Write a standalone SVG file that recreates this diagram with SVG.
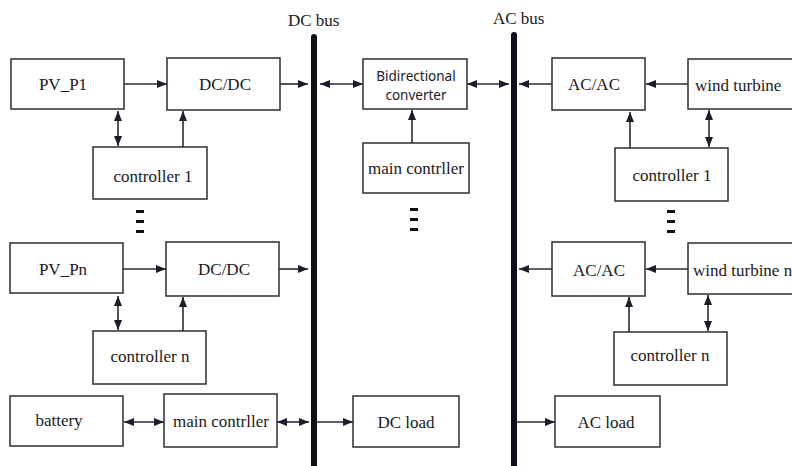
<svg xmlns="http://www.w3.org/2000/svg" width="792" height="466" viewBox="0 0 792 466">
<defs>
<marker id="ah" viewBox="0 0 10 8" refX="10" refY="4" markerWidth="10" markerHeight="8" markerUnits="userSpaceOnUse" orient="auto-start-reverse">
<path d="M0,0 L10,4 L0,8 z" fill="#1c1c2c"/>
</marker>
</defs>
<style>
.box{fill:#fff;stroke:#3a3a3a;stroke-width:1.6}
.t{font-family:"Liberation Serif","Times New Roman",serif;font-size:17px;fill:#1a1a1a}
.s{font-family:"Noto Sans","Open Sans",sans-serif;font-size:13.5px;fill:#1a1a2a}
.c{stroke:#2a2a35;stroke-width:1.6;fill:none}
.bus{stroke:#0e0e1c;stroke-width:6;stroke-linecap:round}
.dash{fill:#111}
</style>
<rect width="792" height="466" fill="#fff"/>

<g id="buses">
<line class="bus" x1="314" y1="37" x2="314" y2="470"/>
<line class="bus" x1="514" y1="35" x2="514" y2="470"/>
<text class="t" x="288" y="26">DC bus</text>
<text class="t" x="493" y="24">AC bus</text>
</g>

<g id="pv1"><rect class="box" x="11" y="59" width="113" height="50"/><text class="t" x="63" y="90" text-anchor="middle">PV_P1</text></g>
<g id="dcdc1"><rect class="box" x="167" y="58" width="113" height="52"/><text class="t" x="225" y="90" text-anchor="middle">DC/DC</text></g>
<g id="ctrl1L"><rect class="box" x="93" y="147" width="114" height="52"/><text class="t" x="153" y="182" text-anchor="middle">controller 1</text></g>
<g id="bidir"><rect class="box" x="363" y="59" width="104" height="50"/><text class="s" x="416" y="81" text-anchor="middle">Bidirectional</text><text class="s" x="416" y="100" text-anchor="middle">converter</text></g>
<g id="mainTop"><rect class="box" x="363" y="143" width="106" height="50"/><text class="t" x="416" y="174" text-anchor="middle">main contrller</text></g>
<g id="acac1"><rect class="box" x="552" y="58" width="93" height="52"/><text class="t" x="594" y="90" text-anchor="middle">AC/AC</text></g>
<g id="wind1"><rect class="box" x="688" y="59" width="110" height="50"/><text class="t" x="695" y="91">wind turbine</text></g>
<g id="ctrl1R"><rect class="box" x="615" y="148" width="113" height="53"/><text class="t" x="672" y="181" text-anchor="middle">controller 1</text></g>

<g id="pvn"><rect class="box" x="10" y="243" width="113" height="50"/><text class="t" x="63" y="275" text-anchor="middle">PV_Pn</text></g>
<g id="dcdcn"><rect class="box" x="166" y="242" width="113" height="54"/><text class="t" x="224" y="275" text-anchor="middle">DC/DC</text></g>
<g id="ctrlnL"><rect class="box" x="93" y="331" width="113" height="53"/><text class="t" x="150" y="362" text-anchor="middle">controller n</text></g>
<g id="acacn"><rect class="box" x="552" y="242" width="93" height="54"/><text class="t" x="599" y="276" text-anchor="middle">AC/AC</text></g>
<g id="windn"><rect class="box" x="688" y="243" width="110" height="51"/><text class="t" x="693" y="276">wind turbine n</text></g>
<g id="ctrlnR"><rect class="box" x="614" y="332" width="113" height="53"/><text class="t" x="670" y="361" text-anchor="middle">controller n</text></g>

<g id="battery"><rect class="box" x="10" y="396" width="113" height="50"/><text class="t" x="59" y="426" text-anchor="middle">battery</text></g>
<g id="mainBot"><rect class="box" x="164" y="394" width="113" height="53"/><text class="t" x="221" y="427" text-anchor="middle">main contrller</text></g>
<g id="dcload"><rect class="box" x="353" y="396" width="106" height="51"/><text class="t" x="406" y="428" text-anchor="middle">DC load</text></g>
<g id="acload"><rect class="box" x="555" y="396" width="105" height="51"/><text class="t" x="606" y="428" text-anchor="middle">AC load</text></g>

<g id="ellipses">
<rect class="dash" x="136" y="210" width="8" height="3"/><rect class="dash" x="136" y="220" width="8" height="3"/><rect class="dash" x="136" y="230" width="8" height="3"/>
<rect class="dash" x="410" y="208" width="8" height="3"/><rect class="dash" x="410" y="218" width="8" height="3"/><rect class="dash" x="410" y="228" width="8" height="3"/>
<rect class="dash" x="667" y="210" width="8" height="3"/><rect class="dash" x="667" y="220" width="8" height="3"/><rect class="dash" x="667" y="230" width="8" height="3"/>
</g>

<g id="connectors">
<line class="c" x1="124" y1="84" x2="167" y2="84" marker-end="url(#ah)"/>
<line class="c" x1="280" y1="84" x2="308" y2="84" marker-end="url(#ah)"/>
<line class="c" x1="118" y1="111" x2="118" y2="146" marker-start="url(#ah)" marker-end="url(#ah)"/>
<line class="c" x1="183" y1="147" x2="183" y2="111" marker-end="url(#ah)"/>
<line class="c" x1="320" y1="84" x2="363" y2="84" marker-start="url(#ah)" marker-end="url(#ah)"/>
<line class="c" x1="467" y1="84" x2="509" y2="84" marker-start="url(#ah)" marker-end="url(#ah)"/>
<line class="c" x1="412" y1="143" x2="412" y2="110" marker-end="url(#ah)"/>
<line class="c" x1="552" y1="84" x2="519" y2="84" marker-end="url(#ah)"/>
<line class="c" x1="688" y1="84" x2="646" y2="84" marker-end="url(#ah)"/>
<line class="c" x1="630" y1="148" x2="630" y2="112" marker-end="url(#ah)"/>
<line class="c" x1="709" y1="110" x2="709" y2="147" marker-start="url(#ah)" marker-end="url(#ah)"/>

<line class="c" x1="123" y1="269" x2="166" y2="269" marker-end="url(#ah)"/>
<line class="c" x1="279" y1="269" x2="308" y2="269" marker-end="url(#ah)"/>
<line class="c" x1="118" y1="296" x2="118" y2="330" marker-start="url(#ah)" marker-end="url(#ah)"/>
<line class="c" x1="183" y1="331" x2="183" y2="297" marker-end="url(#ah)"/>
<line class="c" x1="552" y1="269" x2="519" y2="269" marker-end="url(#ah)"/>
<line class="c" x1="688" y1="269" x2="646" y2="269" marker-end="url(#ah)"/>
<line class="c" x1="629" y1="332" x2="629" y2="297" marker-end="url(#ah)"/>
<line class="c" x1="708" y1="295" x2="708" y2="331" marker-start="url(#ah)" marker-end="url(#ah)"/>

<line class="c" x1="124" y1="422" x2="164" y2="422" marker-start="url(#ah)" marker-end="url(#ah)"/>
<line class="c" x1="277" y1="422" x2="309" y2="422" marker-start="url(#ah)" marker-end="url(#ah)"/>
<line class="c" x1="317" y1="422" x2="353" y2="422" marker-end="url(#ah)"/>
<line class="c" x1="517" y1="422" x2="555" y2="422" marker-end="url(#ah)"/>
</g>
</svg>
